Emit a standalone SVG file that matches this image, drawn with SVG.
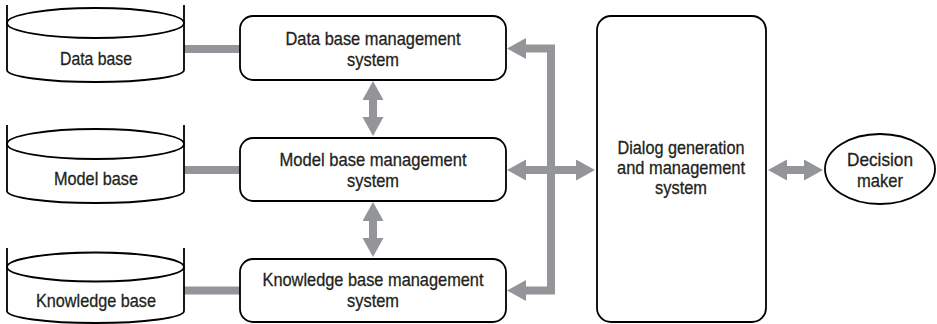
<svg xmlns="http://www.w3.org/2000/svg" width="937" height="324" viewBox="0 0 937 324">
<style>
.shape{fill:#fff;stroke:#000;stroke-width:1.8}
.cyl{fill:none;stroke:#000;stroke-width:1.8}
.lbl{font-family:"Liberation Sans",Arial,sans-serif;font-size:18.5px;fill:#231f20;stroke:#231f20;stroke-width:0.3;text-anchor:middle}
.conn{fill:none;stroke:#939598;stroke-width:8;stroke-linejoin:miter}
.arr{marker-start:url(#head);marker-end:url(#head)}
</style>
<defs>
<marker id="head" markerUnits="userSpaceOnUse" markerWidth="22" markerHeight="22" viewBox="0 0 20 22" refX="1" refY="10.5" orient="auto-start-reverse">
<path d="M0,0 L19,10.5 L0,21 z" fill="#939598"/>
</marker>
</defs>
<rect width="937" height="324" fill="#fff"/>
<g id="connectors">
<line class="conn" x1="184" y1="49" x2="241" y2="49"/>
<line class="conn" x1="184" y1="170" x2="241" y2="170"/>
<line class="conn" x1="184" y1="290.5" x2="241" y2="290.5"/>
<line class="conn arr" x1="373" y1="99" x2="373" y2="118"/>
<line class="conn arr" x1="373" y1="220" x2="373" y2="239"/>
<path class="conn arr" d="M525,48.5 H551 V290.5 H525"/>
<line class="conn arr" x1="525" y1="170" x2="577" y2="170"/>
<line class="conn arr" x1="786" y1="170" x2="805" y2="170"/>
</g>
<g id="database">
<path class="cyl" d="M7,5 V70 A88.5,12 0 0 0 184,70 V5"/>
<ellipse class="cyl" cx="95.5" cy="23" rx="88.5" ry="15"/>
<text class="lbl" x="96" y="65" textLength="72" lengthAdjust="spacingAndGlyphs">Data base</text>
</g>
<g id="modelbase">
<path class="cyl" d="M7,125 V191 A88.5,12 0 0 0 184,191 V125"/>
<ellipse class="cyl" cx="95.5" cy="144" rx="88.5" ry="15"/>
<text class="lbl" x="96" y="185" textLength="84" lengthAdjust="spacingAndGlyphs">Model base</text>
</g>
<g id="knowledgebase">
<path class="cyl" d="M7,248 V311 A88.5,12 0 0 0 184,311 V248"/>
<ellipse class="cyl" cx="95.5" cy="267" rx="88.5" ry="14.5"/>
<text class="lbl" x="96" y="307" textLength="120" lengthAdjust="spacingAndGlyphs">Knowledge base</text>
</g>
<g id="dbms">
<rect class="shape" x="240" y="16" width="266" height="64" rx="13"/>
<text class="lbl" x="373" y="45" textLength="175" lengthAdjust="spacingAndGlyphs">Data base management</text>
<text class="lbl" x="373" y="66" textLength="52" lengthAdjust="spacingAndGlyphs">system</text>
</g>
<g id="mbms">
<rect class="shape" x="240" y="138" width="266" height="63" rx="13"/>
<text class="lbl" x="373" y="166" textLength="187" lengthAdjust="spacingAndGlyphs">Model base management</text>
<text class="lbl" x="373" y="187" textLength="52" lengthAdjust="spacingAndGlyphs">system</text>
</g>
<g id="kbms">
<rect class="shape" x="240" y="259" width="266" height="63" rx="13"/>
<text class="lbl" x="373" y="286" textLength="221" lengthAdjust="spacingAndGlyphs">Knowledge base management</text>
<text class="lbl" x="373" y="307" textLength="52" lengthAdjust="spacingAndGlyphs">system</text>
</g>
<g id="dialog">
<rect class="shape" x="597" y="16" width="169" height="306" rx="14"/>
<text class="lbl" x="681" y="154" textLength="127" lengthAdjust="spacingAndGlyphs">Dialog generation</text>
<text class="lbl" x="681" y="174" textLength="128" lengthAdjust="spacingAndGlyphs">and management</text>
<text class="lbl" x="681" y="194" textLength="52" lengthAdjust="spacingAndGlyphs">system</text>
</g>
<g id="decisionmaker">
<ellipse class="shape" cx="880" cy="169" rx="55" ry="35"/>
<text class="lbl" x="880" y="166" textLength="66" lengthAdjust="spacingAndGlyphs">Decision</text>
<text class="lbl" x="880" y="187" textLength="46" lengthAdjust="spacingAndGlyphs">maker</text>
</g>
</svg>
